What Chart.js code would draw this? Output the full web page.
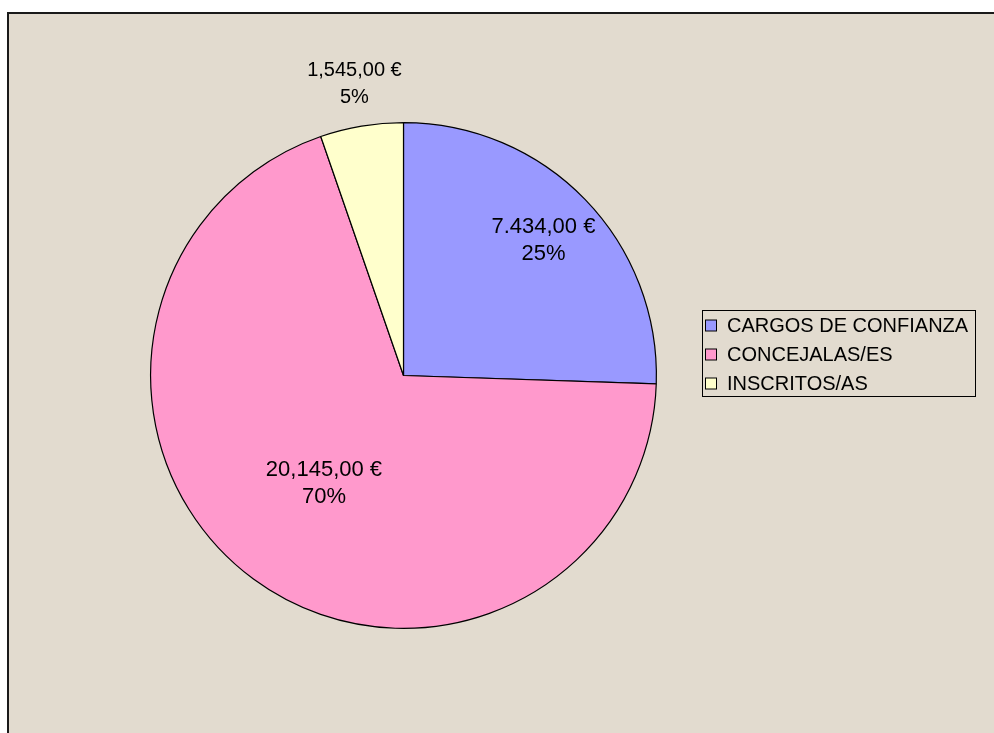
<!DOCTYPE html>
<html>
<head>
<meta charset="utf-8">
<script src="https://cdn.jsdelivr.net/npm/chart.js@4.4.1/dist/chart.umd.min.js"></script>
<style>
html,body{margin:0;padding:0;background:#ffffff;}
#wrap{width:994px;height:733px;position:relative;}
</style>
</head>
<body>
<div id="wrap"><canvas id="c" width="994" height="733"></canvas></div>
<script>
const categories = ["CARGOS DE CONFIANZA", "CONCEJALAS/ES", "INSCRITOS/AS"];
const values = [7434, 20145, 1545];
const valueLabels = ["7.434,00 €", "20,145,00 €", "1,545,00 €"];
const percentLabels = ["25%", "70%", "5%"];
const colors = ["#9999ff", "#ff99cc", "#ffffcc"];

const BG = "#e2dbcf";
const FONT = "'Liberation Sans', Arial, Helvetica, sans-serif";

const backgroundPlugin = {
  id: 'bg',
  beforeDraw(chart) {
    const ctx = chart.ctx;
    ctx.save();
    ctx.fillStyle = '#ffffff';
    ctx.fillRect(0, 0, chart.width, chart.height);
    ctx.fillStyle = BG;
    ctx.fillRect(8, 13, chart.width, chart.height);
    ctx.strokeStyle = '#1a1a1a';
    ctx.lineWidth = 2;
    ctx.beginPath();
    ctx.moveTo(8, chart.height);
    ctx.lineTo(8, 13);
    ctx.lineTo(chart.width, 13);
    ctx.stroke();
    ctx.restore();
  }
};

const labelPlugin = {
  id: 'sliceLabels',
  afterDatasetsDraw(chart) {
    const ctx = chart.ctx;
    const meta = chart.getDatasetMeta(0);
    const factors = [0.77, 0.53, 1.17];
    const sizes = [22, 22, 20];
    ctx.save();
    ctx.fillStyle = '#000000';
    ctx.textAlign = 'center';
    ctx.textBaseline = 'middle';
    meta.data.forEach((arc, i) => {
      const p = arc.getProps(['x', 'y', 'startAngle', 'endAngle', 'outerRadius'], true);
      const mid = (p.startAngle + p.endAngle) / 2;
      const r = p.outerRadius * factors[i];
      const cx = p.x + Math.cos(mid) * r;
      const cy = p.y + Math.sin(mid) * r;
      ctx.font = sizes[i] + 'px ' + FONT;
      ctx.fillText(valueLabels[i], cx, cy - 13.5);
      ctx.fillText(percentLabels[i], cx, cy + 13.5);
    });
    ctx.restore();
  }
};

const legendPlugin = {
  id: 'boxLegend',
  afterDraw(chart) {
    const ctx = chart.ctx;
    const ds = chart.data.datasets[0];
    ctx.save();
    ctx.strokeStyle = '#000000';
    ctx.lineWidth = 1;
    ctx.strokeRect(702.5, 310.5, 273, 86);
    ctx.font = '20px ' + FONT;
    ctx.textAlign = 'left';
    ctx.textBaseline = 'middle';
    chart.data.labels.forEach((lab, i) => {
      const cy = 325.5 + i * 29;
      ctx.fillStyle = ds.backgroundColor[i];
      ctx.fillRect(705.5, cy - 5.5, 11, 11);
      ctx.strokeStyle = '#000000';
      ctx.strokeRect(705.5, cy - 5.5, 11, 11);
      ctx.fillStyle = '#000000';
      ctx.fillText(lab, 727, cy + 1);
    });
    ctx.restore();
  }
};

new Chart(document.getElementById('c'), {
  type: 'pie',
  data: {
    labels: categories,
    datasets: [{
      data: values,
      backgroundColor: colors,
      borderColor: '#000000',
      borderWidth: 1.2
    }]
  },
  options: {
    responsive: false,
    animation: false,
    layout: { padding: { left: 150, right: 337, top: 122, bottom: 104 } },
    plugins: {
      legend: { display: false },
      tooltip: { enabled: false }
    }
  },
  plugins: [backgroundPlugin, labelPlugin, legendPlugin]
});
</script>
</body>
</html>
